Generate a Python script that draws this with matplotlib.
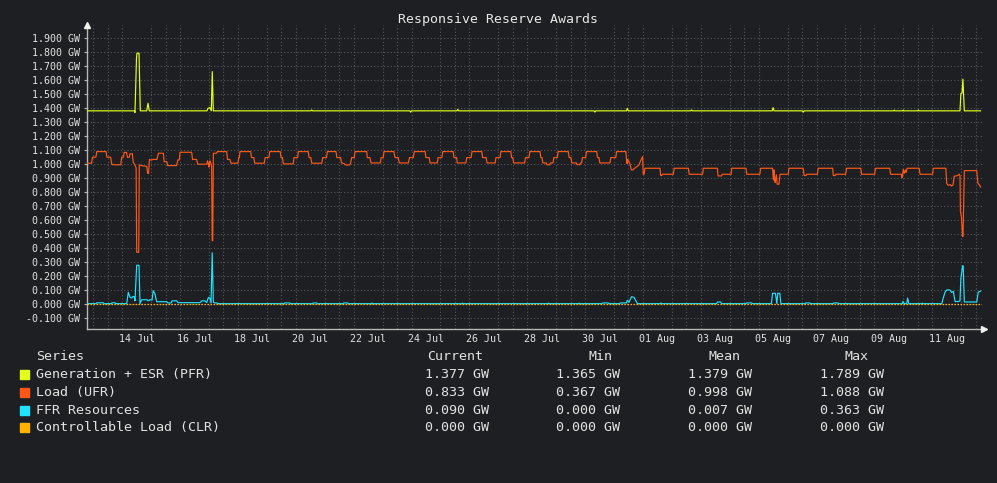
import numpy as np
import pandas as pd
import matplotlib
matplotlib.use("Agg")
import matplotlib.pyplot as plt
import matplotlib.dates as mdates
from matplotlib.ticker import FormatStrFormatter, MultipleLocator
from matplotlib.patches import Rectangle

# ---------------- data ----------------
BASE = pd.Timestamp("2025-07-13 00:00")
X_START, X_END = -0.235, 30.79          # days from BASE
Y_MIN, Y_MAX = -0.181, 1.99

series_names = ["Generation + ESR (PFR)", "Load (UFR)", "FFR Resources",
                "Controllable Load (CLR)"]
series_colors = ["#e2ff1c", "#ff5716", "#1fe3ff", "#ffb300"]
stat_headers = ["Current", "Min", "Mean", "Max"]
stat_current = ["1.377 GW", "0.833 GW", "0.090 GW", "0.000 GW"]
stat_min = ["1.365 GW", "0.367 GW", "0.000 GW", "0.000 GW"]
stat_mean = ["1.379 GW", "0.998 GW", "0.007 GW", "0.000 GW"]
stat_max = ["1.789 GW", "1.088 GW", "0.363 GW", "0.000 GW"]

xtick_days = ["2025-07-14 12:00", "2025-07-16 12:00", "2025-07-18 12:00",
              "2025-07-20 12:00", "2025-07-22 12:00", "2025-07-24 12:00",
              "2025-07-26 12:00", "2025-07-28 12:00", "2025-07-30 12:00",
              "2025-08-01 12:00", "2025-08-03 12:00", "2025-08-05 12:00",
              "2025-08-07 12:00", "2025-08-09 12:00", "2025-08-11 12:00"]

# (days since 13 Jul 00:00, GW)
pfr_points = [
    (-0.235, 1.377), (1.424, 1.377), (1.441, 1.365), (1.493, 1.75), (1.51, 1.789),
    (1.58, 1.789), (1.625, 1.377), (1.846, 1.377), (1.891, 1.431), (1.936, 1.377),
    (3.93, 1.377), (3.965, 1.395), (4.034, 1.40), (4.079, 1.377), (4.113, 1.657),
    (4.148, 1.377), (7.52, 1.377), (7.549, 1.383), (7.58, 1.377), (10.94, 1.377),
    (10.97, 1.368), (11.0, 1.377), (12.57, 1.377), (12.60, 1.387), (12.63, 1.377),
    (17.31, 1.377), (17.34, 1.368), (17.37, 1.377), (18.43, 1.377), (18.46, 1.395),
    (18.49, 1.377), (20.65, 1.377), (20.68, 1.383), (20.71, 1.377), (23.47, 1.377),
    (23.50, 1.40), (23.53, 1.377), (24.51, 1.377), (24.54, 1.368), (24.57, 1.377),
    (27.67, 1.377), (27.69, 1.382), (27.71, 1.377), (27.98, 1.377), (28.00, 1.382),
    (28.02, 1.377), (28.50, 1.377), (28.52, 1.383), (28.54, 1.377), (29.96, 1.377),
    (29.99, 1.50), (30.03, 1.503), (30.06, 1.603), (30.11, 1.377), (30.67, 1.377),
]

ufr_points = [
    # 12-17 Jul (irregular)
    (-0.235, 1.003), (-0.06, 1.003), (-0.03, 1.046), (0.09, 1.046), (0.12, 1.086),
    (0.44, 1.086), (0.47, 1.046), (0.60, 1.046), (0.63, 1.003), (0.66, 0.992),
    (0.95, 0.992), (0.98, 1.046), (1.04, 1.046), (1.07, 1.08), (1.15, 1.08),
    (1.18, 1.045), (1.24, 1.045), (1.27, 1.07), (1.35, 1.07), (1.38, 1.01),
    (1.44, 0.99), (1.48, 0.97), (1.50, 0.367), (1.57, 0.367), (1.59, 0.99),
    (1.70, 0.985), (1.85, 0.98), (1.88, 0.93), (1.91, 0.93), (1.94, 1.03),
    (2.00, 1.025), (2.06, 1.03), (2.20, 1.03), (2.25, 1.074), (2.42, 1.074),
    (2.45, 1.014), (2.54, 1.014), (2.57, 0.986), (2.88, 0.986), (2.92, 1.026),
    (2.97, 1.026), (3.00, 1.081), (3.40, 1.081), (3.43, 1.03), (3.57, 1.03),
    (3.61, 0.996), (3.92, 0.996), (3.95, 1.02), (3.98, 1.0), (4.00, 0.975),
    (4.03, 1.02), (4.07, 1.0), (4.09, 0.98), (4.11, 0.45), (4.13, 0.45),
    (4.15, 1.074), (4.26, 1.074), (4.29, 1.086), (4.61, 1.086), (4.64, 1.03),
    (4.72, 1.03), (4.76, 1.003), (5.00, 1.003),
    # 18-31 Jul (regular)
    (5.03, 1.043), (5.05, 1.043), (5.07, 1.086), (5.44, 1.086), (5.47, 1.043),
    (5.55, 1.043), (5.58, 1.003), (5.91, 1.003), (5.94, 1.043),
    (6.07, 1.043), (6.10, 1.086), (6.46, 1.086), (6.49, 1.043), (6.54, 1.043),
    (6.57, 0.998), (6.91, 0.998), (6.94, 1.043),
    (7.06, 1.043), (7.09, 1.086), (7.43, 1.086), (7.46, 1.043), (7.52, 1.043),
    (7.55, 1.003), (7.90, 1.003), (7.93, 1.043),
    (8.06, 1.043), (8.09, 1.086), (8.39, 1.086), (8.42, 1.043), (8.55, 1.043),
    (8.58, 1.005), (8.68, 1.0), (8.72, 0.99), (8.85, 0.99), (8.89, 1.0),
    (8.93, 1.043),
    (9.02, 1.043), (9.05, 1.086), (9.45, 1.086), (9.47, 1.043), (9.56, 1.043),
    (9.60, 1.005), (9.92, 1.005), (9.95, 1.043),
    (10.02, 1.043), (10.05, 1.086), (10.39, 1.086), (10.43, 1.043), (10.54, 1.043),
    (10.58, 1.005), (10.89, 1.005), (10.93, 1.043),
    (11.06, 1.043), (11.10, 1.086), (11.47, 1.086), (11.50, 1.043), (11.61, 1.043),
    (11.64, 1.005), (11.89, 1.005), (11.92, 1.043),
    (12.05, 1.043), (12.08, 1.086), (12.44, 1.086), (12.47, 1.043), (12.56, 1.043),
    (12.58, 1.005), (12.88, 1.005), (12.91, 1.043),
    (13.06, 1.043), (13.09, 1.086), (13.43, 1.086), (13.46, 1.043), (13.58, 1.043),
    (13.61, 1.005), (13.89, 1.005), (13.92, 1.043),
    (14.06, 1.043), (14.09, 1.086), (14.43, 1.086), (14.46, 1.043), (14.50, 1.043),
    (14.53, 1.005), (14.91, 1.005), (14.94, 1.043),
    (15.06, 1.043), (15.09, 1.086), (15.44, 1.086), (15.47, 1.043), (15.51, 1.043),
    (15.54, 1.005), (15.66, 1.005), (15.68, 0.992), (15.78, 0.992), (15.80, 1.005),
    (15.89, 1.005), (15.92, 1.043),
    (16.04, 1.043), (16.07, 1.086), (16.42, 1.086), (16.45, 1.043), (16.51, 1.043),
    (16.54, 1.005), (16.70, 1.005), (16.72, 0.993), (16.82, 0.993), (16.84, 1.005),
    (16.88, 1.005), (16.91, 1.043),
    (17.02, 1.043), (17.05, 1.086), (17.40, 1.086), (17.43, 1.043), (17.48, 1.043),
    (17.51, 1.005), (17.86, 1.005), (17.89, 1.043),
    (18.06, 1.043), (18.09, 1.086), (18.41, 1.086), (18.43, 1.035), (18.45, 1.00),
    (18.47, 1.03), (18.50, 1.02), (18.55, 1.00), (18.60, 0.955), (18.66, 0.955),
    (18.70, 0.965), (18.80, 0.98), (18.86, 0.99), (18.95, 1.035), (18.99, 1.05),
    (19.01, 0.924), (19.04, 0.924),
    # Aug
    (19.07, 0.967), (19.59, 0.967), (19.61, 0.915), (19.65, 0.915), (19.67, 0.924),
    (20.05, 0.924), (20.08, 0.967), (20.57, 0.967), (20.60, 0.924), (21.06, 0.924),
    (21.09, 0.967), (21.57, 0.967), (21.60, 0.912), (21.72, 0.912), (21.74, 0.924),
    (22.05, 0.924), (22.07, 0.967), (22.56, 0.967), (22.59, 0.924), (23.04, 0.924),
    (23.07, 0.967), (23.48, 0.967), (23.51, 0.884), (23.53, 0.955), (23.55, 0.889),
    (23.57, 0.865), (23.61, 0.920), (23.64, 0.853), (23.70, 0.853), (23.74, 0.924),
    (24.02, 0.924), (24.05, 0.967), (24.54, 0.967), (24.57, 0.915), (24.64, 0.915),
    (24.66, 0.924), (25.03, 0.924), (25.06, 0.967), (25.56, 0.967), (25.58, 0.915),
    (25.65, 0.915), (25.67, 0.924), (26.01, 0.924), (26.04, 0.967), (26.53, 0.967),
    (26.56, 0.924), (27.01, 0.924), (27.04, 0.967), (27.53, 0.967), (27.56, 0.924),
    (27.94, 0.924), (27.96, 0.90), (28.00, 0.96), (28.03, 0.93), (28.07, 0.955),
    (28.10, 0.936), (28.13, 0.967), (28.55, 0.967), (28.58, 0.924), (29.01, 0.924),
    (29.04, 0.967), (29.47, 0.967), (29.50, 0.86), (29.55, 0.845), (29.62, 0.85),
    (29.67, 0.84), (29.72, 0.848), (29.76, 0.91), (29.82, 0.912), (29.88, 0.915),
    (29.93, 0.925), (29.96, 0.915), (29.975, 0.66), (30.01, 0.62), (30.05, 0.48),
    (30.065, 0.48), (30.11, 0.95), (30.54, 0.95), (30.58, 0.86), (30.63, 0.848),
    (30.67, 0.833),
]

ffr_points = [
    (-0.235, 0.0), (-0.21, 0.004), (-0.17, 0.0), (0.10, 0.0), (0.12, 0.006),
    (0.35, 0.006), (0.37, 0.0), (0.62, 0.0), (0.64, 0.006), (0.75, 0.006),
    (0.77, 0.0), (1.155, 0.0), (1.21, 0.081), (1.27, 0.045), (1.33, 0.04),
    (1.36, 0.05), (1.42, 0.05), (1.44, 0.02), (1.50, 0.274), (1.58, 0.274),
    (1.614, 0.0), (1.67, 0.028), (1.85, 0.028), (1.90, 0.02), (1.96, 0.028),
    (2.03, 0.025), (2.07, 0.093), (2.13, 0.07), (2.19, 0.014), (2.54, 0.014),
    (2.58, 0.005), (2.69, 0.005), (2.72, 0.02), (2.88, 0.02), (2.93, 0.007),
    (3.69, 0.007), (3.75, 0.02), (3.86, 0.02), (3.92, 0.008), (3.98, 0.045),
    (4.03, 0.04), (4.07, 0.005), (4.11, 0.363), (4.15, 0.01), (4.21, 0.005),
    (4.27, 0.005), (4.31, 0.0), (6.60, 0.0), (6.62, 0.005), (6.79, 0.005),
    (6.81, 0.0), (7.58, 0.0), (7.60, 0.005), (7.72, 0.005), (7.74, 0.0),
    (8.64, 0.0), (8.66, 0.005), (8.80, 0.005), (8.82, 0.0), (9.61, 0.0),
    (9.63, 0.005), (9.65, 0.0), (12.74, 0.0), (12.76, 0.004), (12.78, 0.0),
    (15.72, 0.0), (15.74, 0.004), (15.76, 0.0), (16.77, 0.0), (16.79, 0.004),
    (16.81, 0.0), (17.59, 0.0), (17.61, 0.005), (17.80, 0.005), (17.82, 0.0),
    (18.19, 0.0), (18.21, 0.005), (18.43, 0.005), (18.46, 0.024), (18.52, 0.01),
    (18.54, 0.02), (18.61, 0.05), (18.69, 0.045), (18.81, 0.0), (19.60, 0.0),
    (19.62, 0.005), (19.64, 0.0), (21.54, 0.0), (21.58, 0.012), (21.68, 0.012),
    (21.72, 0.0), (22.56, 0.0), (22.58, 0.005), (22.76, 0.005), (22.78, 0.0),
    (23.44, 0.0), (23.48, 0.074), (23.58, 0.074), (23.63, 0.0), (23.66, 0.074),
    (23.73, 0.074), (23.77, 0.0), (24.61, 0.0), (24.63, 0.005), (24.77, 0.005),
    (24.79, 0.0), (25.58, 0.0), (25.60, 0.005), (25.74, 0.005), (25.76, 0.0),
    (27.97, 0.0), (27.99, 0.016), (28.03, 0.0), (28.12, 0.0), (28.15, 0.04),
    (28.19, 0.0), (28.64, 0.0), (28.66, 0.004), (28.68, 0.0), (29.33, 0.0),
    (29.38, 0.04), (29.44, 0.08), (29.50, 0.098), (29.61, 0.098), (29.67, 0.08),
    (29.73, 0.088), (29.79, 0.015), (29.90, 0.015), (29.96, 0.02), (29.99, 0.18),
    (30.05, 0.27), (30.07, 0.27), (30.11, 0.012), (30.54, 0.012), (30.59, 0.081),
    (30.67, 0.090),
]

clr_points = [(-0.235, 0.0), (30.67, 0.0)]

# ---------------- style ----------------
BG = "#1e1f22"
GRID = "#56575a"
AXIS = "#b8b8b8"
TXT = "#e2e2e2"
plt.rcParams["font.family"] = ["DejaVu Sans Mono", "DejaVu Sans"]

W, H = 997, 483
fig = plt.figure(figsize=(W / 100, H / 100), dpi=100, facecolor=BG)
L, R, T, B = 86.5, 984, 25, 329
ax = fig.add_axes([L / W, 1 - B / H, (R - L) / W, (B - T) / H], facecolor=BG)


def to_dt(points):
    t = np.array([p[0] for p in points])
    v = np.array([p[1] for p in points])
    return BASE + pd.to_timedelta(t, unit="D"), v


for pts, col, z in [(pfr_points, series_colors[0], 3), (ufr_points, series_colors[1], 3),
                    (ffr_points, series_colors[2], 4)]:
    x, y = to_dt(pts)
    ax.plot(x, y, color=col, lw=0.85, zorder=z)
x, y = to_dt(clr_points)
ax.plot(x, y, color=series_colors[3], lw=0.9, ls=(0, (1.2, 1.2)), zorder=5)

ax.set_xlim(BASE + pd.to_timedelta(X_START, unit="D"), BASE + pd.to_timedelta(X_END, unit="D"))
ax.set_ylim(Y_MIN, Y_MAX)

ax.set_yticks(np.round(np.arange(-0.1, 1.95, 0.1), 3))
ax.yaxis.set_major_formatter(FormatStrFormatter("%.3f GW"))
ax.set_xticks(pd.to_datetime(xtick_days))
ax.xaxis.set_major_formatter(mdates.DateFormatter("%d %b"))
ax.xaxis.set_minor_locator(mdates.HourLocator(byhour=[0, 12]))

ax.grid(which="major", axis="y", color=GRID, ls=(0, (1, 2)), lw=0.8)
ax.grid(which="minor", axis="x", color=GRID, ls=(0, (1, 2)), lw=0.8)
ax.grid(which="major", axis="x", visible=False)
ax.set_axisbelow(True)

ax.tick_params(axis="y", colors=TXT, labelsize=7.2, length=2.2, width=0.8,
               pad=2.5, color=AXIS)
ax.tick_params(axis="x", colors=TXT, labelsize=7.2, length=0, pad=3.5)
ax.tick_params(axis="x", which="minor", length=0)

for s in ["top", "right"]:
    ax.spines[s].set_visible(False)
for s in ["left", "bottom"]:
    ax.spines[s].set_color(AXIS)
    ax.spines[s].set_linewidth(1.0)

# axis arrows
ax.plot([0], [1.0], marker="^", ms=4, color="#f0f0f0", transform=ax.transAxes,
        clip_on=False, zorder=10)
ax.plot([1.0], [0], marker=">", ms=4, color="#f0f0f0", transform=ax.transAxes,
        clip_on=False, zorder=10)

# title
fig.text(497.5 / W, 1 - 19.5 / H, "Responsive Reserve Awards", ha="center",
         va="center", fontsize=9.5, color="#e8e8e8")

# legend table
FS = 9.6
row_y = [374.3, 392.3, 410.0, 427.7]
fig.text(36 / W, 1 - 356.7 / H, "Series", ha="left", va="center", fontsize=FS, color=TXT)
header_x = [483.5, 612.5, 740.5, 868.5]
value_x = [488.5, 620.5, 752.0, 883.5]
for hx, h in zip(header_x, stat_headers):
    fig.text(hx / W, 1 - 356.7 / H, h, ha="right", va="center", fontsize=FS, color=TXT)
columns = [stat_current, stat_min, stat_mean, stat_max]
for i, name in enumerate(series_names):
    yy = row_y[i]
    fig.patches.append(Rectangle((20 / W, 1 - (yy + 4.5) / H), 9 / W, 9 / H,
                                 transform=fig.transFigure, color=series_colors[i],
                                 figure=fig))
    fig.text(36 / W, 1 - yy / H, name, ha="left", va="center", fontsize=FS, color=TXT)
    for vx, col in zip(value_x, columns):
        fig.text(vx / W, 1 - yy / H, col[i], ha="right", va="center", fontsize=FS,
                 color=TXT)

fig.savefig("out.png", dpi=100, facecolor=BG)
